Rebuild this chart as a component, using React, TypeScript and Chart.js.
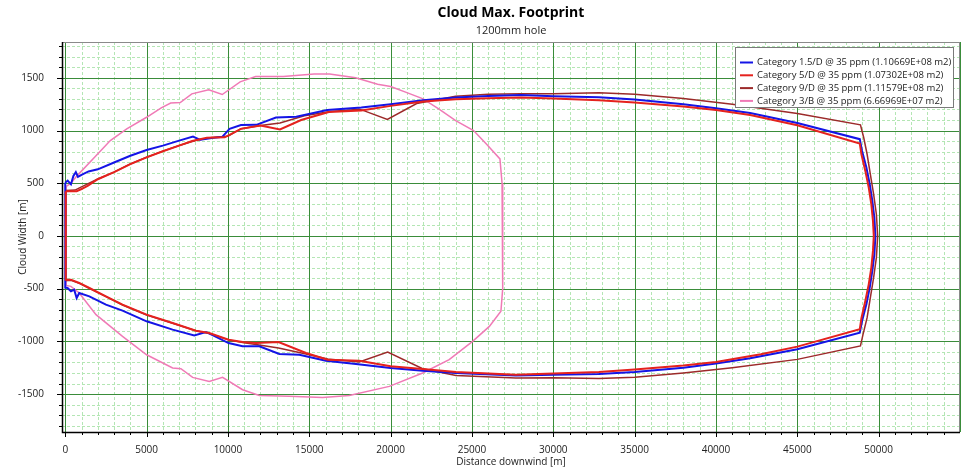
import React, { useEffect, useRef } from 'react';
import { Chart, registerables } from 'chart.js';

Chart.register(...registerables);

const FONT = '"Open Sans", "Noto Sans", sans-serif';

const chartTitle = 'Cloud Max. Footprint';
const chartSubtitle = '1200mm hole';
const xAxisTitle = 'Distance downwind [m]';
const yAxisTitle = 'Cloud Width [m]';

const xTickValues = [0, 5000, 10000, 15000, 20000, 25000, 30000, 35000, 40000, 45000, 50000];
const yTickValues = [-1500, -1000, -500, 0, 500, 1000, 1500];

const seriesLabels = [
  'Category 1.5/D @ 35 ppm (1.10669E+08 m2)',
  'Category 5/D @ 35 ppm (1.07302E+08 m2)',
  'Category 9/D @ 35 ppm (1.11579E+08 m2)',
  'Category 3/B @ 35 ppm (6.66969E+07 m2)',
];
const seriesColors = ['#1414e6', '#e5221e', '#9c2a2a', '#f07ab6'];
const seriesWidths = [2, 2, 1.5, 1.5];
const seriesDrawOrder = [1, 0, 2, 3];

// [distance downwind, cloud width] — upper edge, left to right (ending at the tip)
const cat15Upper: number[][] = [
  [0, 505], [150, 525], [350, 490], [500, 570], [650, 605], [780, 560], [1000, 580], [1430, 612],
  [2000, 632], [3000, 697], [4000, 761], [5000, 815], [6000, 857], [7000, 904], [7850, 943],
  [8300, 912], [9000, 928], [9650, 940], [10100, 1016], [10800, 1052], [11750, 1054], [12950, 1124],
  [14200, 1131], [16100, 1194], [18200, 1219], [20000, 1250], [22000, 1288], [24000, 1313],
  [26000, 1328], [28000, 1337], [30000, 1325], [32800, 1315], [35000, 1294], [38000, 1250],
  [40000, 1212], [42100, 1166], [45000, 1072], [48840, 918], [48980, 807], [49245, 649],
  [49450, 490], [49610, 332], [49735, 174], [49800, 0],
];
// lower edge, left to right
const cat15Lower: number[][] = [
  [0, -490], [140, -494], [350, -525], [550, -509], [700, -589], [860, -541], [1480, -573],
  [2500, -652], [3520, -709], [5000, -810], [6600, -889], [7930, -943], [8650, -911], [10040, -1016],
  [10900, -1047], [11930, -1047], [13160, -1120], [14390, -1127], [16020, -1184], [17870, -1215],
  [20000, -1253], [21970, -1278], [24020, -1300], [27700, -1323], [30000, -1318], [32800, -1310],
  [35000, -1290], [38000, -1250], [40000, -1210], [42100, -1160], [45000, -1075], [48840, -918],
  [48980, -807], [49245, -649], [49450, -490], [49610, -332], [49735, -174],
];

const cat5Upper: number[][] = [
  [30, 425], [700, 425], [1000, 445], [1400, 478], [2000, 538], [3000, 605], [4000, 682],
  [5000, 745], [6000, 803], [7000, 857], [7800, 900], [8700, 932], [9800, 936], [10800, 1016],
  [12000, 1047], [13200, 1010], [14500, 1100], [16200, 1175], [18200, 1190], [20000, 1234],
  [22000, 1275], [24000, 1297], [26000, 1306], [28000, 1313], [30000, 1303], [32800, 1287],
  [35000, 1266], [38000, 1228], [40000, 1194], [42100, 1147], [45000, 1050], [48840, 877],
  [48940, 775], [49180, 617], [49390, 459], [49550, 300], [49650, 142], [49700, 0],
];
const cat5Lower: number[][] = [
  [30, -415], [350, -415], [860, -446], [1480, -494], [2500, -573], [3520, -652], [5000, -747],
  [6600, -826], [8030, -899], [8850, -921], [10040, -984], [10900, -1006], [11720, -1016],
  [13110, -1006], [14800, -1111], [16130, -1174], [18070, -1184], [20000, -1237], [21970, -1263],
  [24020, -1291], [27700, -1316], [30000, -1305], [32800, -1290], [35000, -1268], [38000, -1230],
  [40000, -1195], [42760, -1123], [45000, -1050], [48840, -886], [48940, -780], [49180, -617],
  [49390, -459], [49550, -300], [49650, -142],
];

const cat9Upper: number[][] = [
  [30, 430], [600, 435], [1000, 465], [2000, 540], [3000, 605], [4000, 683], [5000, 747],
  [6000, 805], [7000, 858], [8000, 905], [9000, 933], [10000, 945], [10800, 1018], [12000, 1047],
  [13200, 1072], [14700, 1140], [16300, 1181], [18100, 1203], [19800, 1106], [21600, 1256],
  [24000, 1325], [26000, 1344], [28000, 1350], [30000, 1350], [32800, 1359], [35000, 1344],
  [38000, 1303], [41000, 1250], [45000, 1161], [48880, 1054], [49080, 934], [49290, 775],
  [49490, 585], [49690, 396], [49860, 206], [49940, 0],
];
const cat9Lower: number[][] = [
  [30, -425], [350, -420], [860, -450], [1480, -496], [2500, -575], [3520, -655], [5000, -750],
  [6600, -828], [8030, -900], [8850, -925], [10040, -986], [10900, -1010], [11720, -1030],
  [13110, -1063], [14800, -1120], [16130, -1168], [18070, -1195], [19820, -1101], [21970, -1260],
  [24020, -1323], [27700, -1348], [30000, -1345], [32800, -1352], [35000, -1340], [38000, -1300],
  [41000, -1250], [45000, -1171], [48880, -1044], [49040, -934], [49290, -775], [49490, -585],
  [49690, -396], [49860, -206],
];

const cat3Upper: number[][] = [
  [60, 470], [350, 500], [720, 570], [1890, 760], [2770, 905], [3780, 1016], [5000, 1126],
  [5900, 1215], [6480, 1261], [7070, 1265], [7780, 1348], [8820, 1386], [9650, 1342],
  [10750, 1462], [11700, 1512], [13400, 1512], [15300, 1536], [16250, 1536], [17850, 1500],
  [19200, 1440], [20000, 1418], [21000, 1360], [22000, 1300], [23000, 1200], [24000, 1094],
  [25100, 1000], [25900, 870], [26720, 731], [26850, 500], [26900, 0],
];
const cat3Lower: number[][] = [
  [60, -470], [350, -478], [860, -541], [1890, -747], [3520, -953], [5000, -1127], [6600, -1253],
  [7110, -1259], [7830, -1342], [8850, -1380], [9670, -1342], [10900, -1459], [11930, -1513],
  [13770, -1522], [15820, -1532], [17460, -1513], [19920, -1427], [21970, -1300], [23600, -1174],
  [25040, -1000], [26070, -858], [26780, -715], [26880, -500],
];

const seriesUpper = [cat15Upper, cat5Upper, cat9Upper, cat3Upper];
const seriesLower = [cat15Lower, cat5Lower, cat9Lower, cat3Lower];

function outline(upper: number[][], lower: number[][]) {
  const pts = upper.map(([x, y]) => ({ x, y }));
  const back = lower.map(([x, y]) => ({ x, y })).reverse();
  return pts.concat(back, [{ x: upper[0][0], y: upper[0][1] }]);
}

const gridPlugin = {
  id: 'footprintGrid',
  beforeDatasetsDraw(chart: any) {
    const { ctx, chartArea, scales } = chart;
    const { left, right, top, bottom } = chartArea;
    const xs = scales.x;
    const ys = scales.y;
    ctx.save();
    ctx.fillStyle = '#ffffff';
    ctx.fillRect(left, top, right - left, bottom - top);
    ctx.lineWidth = 1;
    ctx.strokeStyle = '#b4e6b4';
    ctx.setLineDash([3, 2]);
    for (let v = 1000; v < xs.max; v += 1000) {
      if (v % 5000 === 0) continue;
      const p = Math.round(xs.getPixelForValue(v)) + 0.5;
      ctx.beginPath(); ctx.moveTo(p, top); ctx.lineTo(p, bottom); ctx.stroke();
    }
    for (let v = -1800; v <= 1800; v += 100) {
      if (v % 500 === 0) continue;
      const p = Math.round(ys.getPixelForValue(v)) + 0.5;
      ctx.beginPath(); ctx.moveTo(left, p); ctx.lineTo(right, p); ctx.stroke();
    }
    ctx.setLineDash([]);
    ctx.strokeStyle = '#3a8c3a';
    for (let v = 0; v <= xs.max; v += 5000) {
      const p = Math.round(xs.getPixelForValue(v)) + 0.5;
      ctx.beginPath(); ctx.moveTo(p, top); ctx.lineTo(p, bottom); ctx.stroke();
    }
    for (let v = -1500; v <= 1500; v += 500) {
      const p = Math.round(ys.getPixelForValue(v)) + 0.5;
      ctx.beginPath(); ctx.moveTo(left, p); ctx.lineTo(right, p); ctx.stroke();
    }
    ctx.restore();
  },
  afterDatasetsDraw(chart: any) {
    const { ctx, chartArea, scales } = chart;
    const { left, right, top, bottom } = chartArea;
    const xs = scales.x;
    const ys = scales.y;
    ctx.save();
    ctx.lineWidth = 1;
    ctx.strokeStyle = '#8a8a8a';
    ctx.strokeRect(Math.round(left) + 0.5, Math.round(top) + 0.5, Math.round(right - left) - 1, Math.round(bottom - top));
    ctx.strokeStyle = '#000000';
    ctx.lineWidth = 1.5;
    ctx.beginPath();
    ctx.moveTo(Math.round(left) + 0.5, top);
    ctx.lineTo(Math.round(left) + 0.5, Math.round(bottom) + 0.5);
    ctx.lineTo(right, Math.round(bottom) + 0.5);
    ctx.stroke();
    ctx.lineWidth = 1;
    for (let v = 0; v < xs.max; v += 1000) {
      const p = Math.round(xs.getPixelForValue(v)) + 0.5;
      const len = v % 5000 === 0 ? 5 : 3;
      ctx.beginPath(); ctx.moveTo(p, bottom); ctx.lineTo(p, bottom + len); ctx.stroke();
    }
    for (let v = -1800; v <= 1800; v += 100) {
      const p = Math.round(ys.getPixelForValue(v)) + 0.5;
      const len = v % 500 === 0 ? 5 : 3;
      ctx.beginPath(); ctx.moveTo(left, p); ctx.lineTo(left - len, p); ctx.stroke();
    }
    ctx.restore();
  },
  afterDraw(chart: any) {
    const { ctx, chartArea } = chart;
    const datasets = chart.data.datasets;
    const boxRight = chartArea.right - 7;
    const boxTop = chartArea.top + 5;
    const boxW = 218;
    const boxH = 60;
    const boxLeft = boxRight - boxW;
    ctx.save();
    ctx.fillStyle = '#ffffff';
    ctx.fillRect(boxLeft, boxTop, boxW, boxH);
    ctx.strokeStyle = '#7a7a7a';
    ctx.lineWidth = 1;
    ctx.strokeRect(Math.round(boxLeft) + 0.5, Math.round(boxTop) + 0.5, boxW, boxH);
    ctx.font = '9.5px ' + FONT;
    ctx.textBaseline = 'middle';
    ctx.textAlign = 'left';
    datasets.forEach((ds: any, i: number) => {
      const cy = boxTop + 15.5 + i * 12.8;
      ctx.strokeStyle = ds.borderColor;
      ctx.lineWidth = 2;
      ctx.beginPath(); ctx.moveTo(boxLeft + 5, cy); ctx.lineTo(boxLeft + 18, cy); ctx.stroke();
      ctx.fillStyle = '#222222';
      ctx.fillText(ds.label, boxLeft + 22, cy);
    });
    ctx.restore();
  },
  afterLayout(chart: any) {
    chart.boxes.forEach((b: any) => {
      if (b.position === 'top' && b.axis === undefined) {
        b.left = chart.chartArea.left;
        b.right = chart.chartArea.right;
      }
    });
  },
};

export default function App() {
  const ref = useRef<HTMLCanvasElement | null>(null);
  useEffect(() => {
    if (!ref.current) return;
    const datasets = seriesLabels.map((label, i) => ({
      label,
      data: outline(seriesUpper[i], seriesLower[i]),
      borderColor: seriesColors[i],
      backgroundColor: seriesColors[i],
      borderWidth: seriesWidths[i],
      order: seriesDrawOrder[i],
      showLine: true,
      pointRadius: 0,
      pointHoverRadius: 0,
      tension: 0,
      fill: false,
    }));
    const chart = new Chart(ref.current, {
      type: 'scatter',
      data: { datasets },
      plugins: [gridPlugin],
      options: {
        animation: false,
        responsive: true,
        maintainAspectRatio: false,
        layout: { padding: { left: 0, top: 0, bottom: 0, right: 8 } },
        plugins: {
          legend: { display: false },
          tooltip: { enabled: false },
          title: {
            display: true,
            text: chartTitle,
            color: '#000000',
            font: { family: FONT, size: 14, weight: 'bold', lineHeight: 1.2 },
            padding: { top: 5, bottom: 0 },
          },
          subtitle: {
            display: true,
            text: chartSubtitle,
            color: '#222222',
            font: { family: FONT, size: 11, lineHeight: 1.2 },
            padding: { top: 2, bottom: 5 },
          },
        },
        scales: {
          x: {
            type: 'linear',
            min: -200,
            max: 55000,
            afterBuildTicks: (s: any) => { s.ticks = xTickValues.map((v) => ({ value: v })); },
            afterFit: (s: any) => { s.height = 38; },
            grid: { display: false },
            border: { display: false },
            ticks: {
              color: '#222222',
              font: { family: FONT, size: 10 },
              padding: 4,
              maxRotation: 0,
              autoSkip: false,
              callback: (v: any) => String(v),
            },
            title: {
              display: true,
              text: xAxisTitle,
              color: '#222222',
              font: { family: FONT, size: 10 },
              padding: { top: 0, bottom: 2 },
            },
          },
          y: {
            type: 'linear',
            min: -1860,
            max: 1840,
            afterBuildTicks: (s: any) => { s.ticks = yTickValues.map((v) => ({ value: v })); },
            afterFit: (s: any) => { s.width = 62; },
            grid: { display: false },
            border: { display: false },
            ticks: {
              color: '#222222',
              font: { family: FONT, size: 10 },
              padding: 10,
              autoSkip: false,
              callback: (v: any) => String(v),
            },
            title: {
              display: true,
              text: yAxisTitle,
              color: '#222222',
              font: { family: FONT, size: 10 },
              padding: { top: 17, bottom: 0 },
            },
          },
        },
      },
    });
    return () => chart.destroy();
  }, []);
  return (
    <div style={{ position: 'absolute', left: 0, top: 0, width: 968, height: 470, background: '#ffffff' }}>
      <canvas ref={ref} />
    </div>
  );
}
